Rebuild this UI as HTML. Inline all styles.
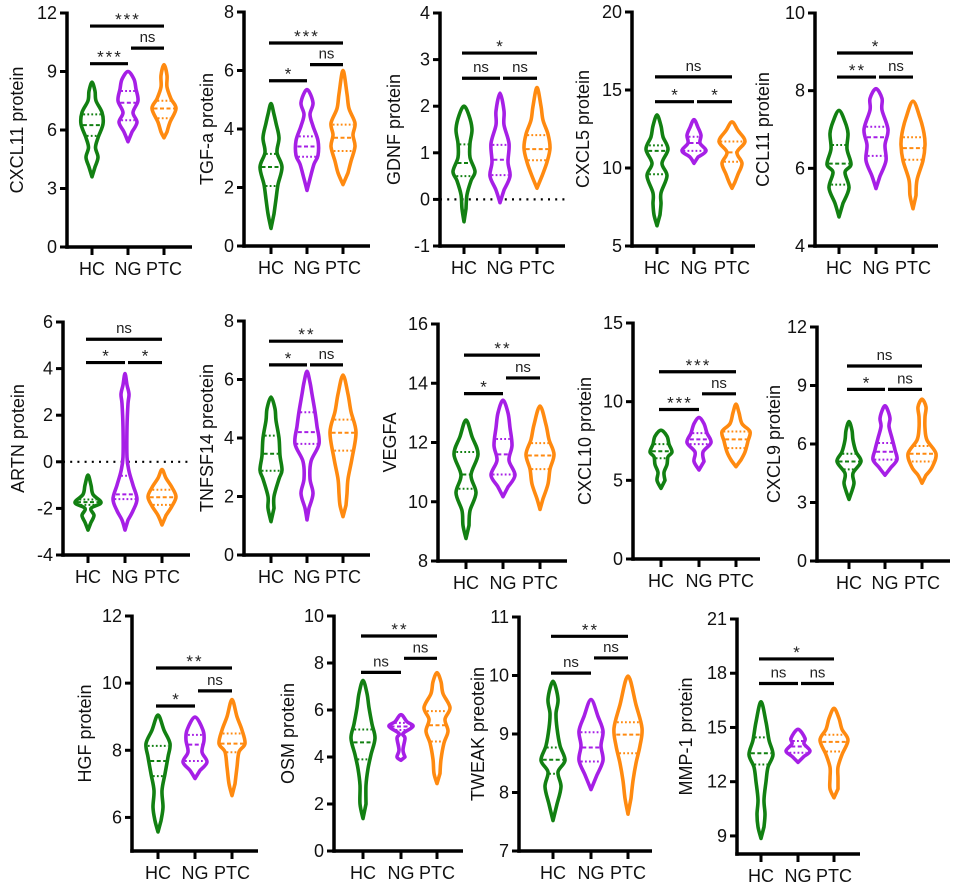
<!DOCTYPE html>
<html><head><meta charset="utf-8">
<style>
html,body{margin:0;padding:0;background:#fff;}
svg{display:block;font-family:"Liberation Sans",Arial,sans-serif;}
</style></head>
<body>
<svg id="fig" width="957" height="889" viewBox="0 0 957 889" xmlns="http://www.w3.org/2000/svg"></svg>
<script>
// ---- data ----
const categories = ['HC','NG','PTC'];
const panelTitles = ['CXCL11 protein','TGF-a protein','GDNF protein','CXCL5 protein','CCL11 protein',
 'ARTN protein','TNFSF14 preotein','VEGFA','CXCL10 protein','CXCL9 protein',
 'HGF protein','OSM protein','TWEAK preotein','MMP-1 protein'];
const panelDomains = [[0,12],[0,8],[-1,4],[5,20],[4,10],[-4,6],[0,8],[8,16],[0,15],[0,12],[5,12],[0,10],[7,11],[8,21]];
const panelTicks = [[0,3,6,9,12],[0,2,4,6,8],[-1,0,1,2,3,4],[5,10,15,20],[4,6,8,10],
 [-4,-2,0,2,4,6],[0,2,4,6,8],[8,10,12,14,16],[0,5,10,15],[0,3,6,9,12],
 [6,8,10,12],[0,2,4,6,8,10],[7,8,9,10,11],[9,12,15,18,21]];
const zeroLinePanels = [2,5];
// density profiles: [value, density]
const violinProfiles = [
 [[[3.6,0],[4.1,3],[4.6,6],[5.1,3.5],[5.6,6],[6.3,11],[6.9,10],[7.5,4],[8.0,3],[8.45,0]],
  [[5.4,0],[5.9,4],[6.4,9],[6.9,5],[7.5,10],[8.1,8],[8.6,6],[9.0,0]],
  [[5.6,0],[5.9,3],[6.4,6],[7.1,12],[7.6,7],[8.2,3],[8.8,3],[9.35,0]]],
 [[[0.6,0],[1.1,3],[1.6,5],[2.1,7],[2.7,11],[3.2,6],[3.7,8],[4.2,5],[4.5,3],[4.87,0]],
  [[1.9,0],[2.3,3],[2.8,7],[3.1,11],[3.6,11],[4.1,6],[4.5,3],[4.9,6],[5.35,0]],
  [[2.1,0],[2.5,5],[2.9,8],[3.4,12],[3.8,10],[4.2,12],[4.7,6],[5.2,4],[6.0,0]]],
 [[[-0.48,0],[-0.2,2],[0.1,3],[0.4,7],[0.6,11],[0.9,6],[1.2,6],[1.5,8],[1.8,5],[2.0,0]],
  [[-0.07,0],[0.2,4],[0.5,10],[0.8,8],[1.2,9],[1.6,4],[1.9,4],[2.28,0]],
  [[0.24,0],[0.5,5],[0.8,10],[1.1,13],[1.4,11],[1.7,6],[2.0,4],[2.4,0]]],
 [[[6.3,0],[7,3],[7.7,4],[8.4,4],[9.5,10],[10.3,5],[11.2,11],[12,6],[12.7,4],[13.4,0]],
  [[10.3,0],[10.7,4],[11.1,12],[11.6,6],[12.1,7],[12.6,4],[13.1,0]],
  [[8.7,0],[9.1,3],[9.6,6],[10.3,10],[11.0,5],[11.7,13],[12.4,6],[12.95,0]]],
 [[[4.75,0],[5.1,4],[5.5,10],[5.9,6],[6.1,12],[6.5,8],[6.9,9],[7.2,6],[7.49,0]],
  [[5.48,0],[5.8,4],[6.2,10],[6.6,9],[7.0,12],[7.5,6],[7.8,6],[8.05,0]],
  [[4.96,0],[5.3,3],[5.7,4],[6.2,10],[6.6,12],[6.9,11],[7.3,7],[7.73,0]]],
 [[[-2.93,0],[-2.6,3],[-2.3,6],[-2.0,3],[-1.75,13],[-1.4,5],[-1.0,3],[-0.57,0]],
  [[-2.93,0],[-2.5,3],[-2.1,8],[-1.6,12],[-1.0,8],[-0.4,4],[0.2,2],[1.5,2],[2.5,3],[2.9,4],[3.3,2],[3.79,0]],
  [[-2.71,0],[-2.3,4],[-1.9,10],[-1.5,14],[-1.1,10],[-0.7,4],[-0.33,0]]],
 [[[1.14,0],[1.6,3],[2.0,3],[2.6,8],[2.9,11],[3.4,9],[4.0,8],[4.6,5],[5.0,4],[5.4,0]],
  [[1.2,0],[1.6,2],[2.1,6],[2.6,3],[3.2,4],[3.8,12],[4.4,10],[4.9,8],[5.5,5],[5.9,3],[6.28,0]],
  [[1.31,0],[1.7,3],[2.1,4],[2.6,5],[3.3,9],[4.2,13],[4.9,8],[5.5,5],[6.15,0]]],
 [[[8.76,0],[9.2,3],[9.7,4],[10.3,10],[10.9,5],[11.6,12],[12.2,6],[12.76,0]],
  [[10.17,0],[10.5,5],[10.9,12],[11.4,6],[11.9,9],[12.5,7],[13.0,5],[13.43,0]],
  [[9.74,0],[10.1,3],[10.6,8],[11.1,10],[11.6,14],[12.1,9],[12.6,6],[13.23,0]]],
 [[[4.49,0],[5.0,4],[5.5,3],[6.0,6],[6.5,7],[6.8,11],[7.3,8],[7.8,6],[8.19,0]],
  [[5.66,0],[6.2,5],[6.8,4],[7.4,12],[8.0,8],[8.6,5],[9.0,0]],
  [[5.87,0],[6.3,5],[6.8,9],[7.5,12],[8.1,14],[8.6,6],[9.3,3],[9.84,0]]],
 [[[3.16,0],[3.6,3],[4.0,5],[4.5,4],[5.1,12],[5.6,7],[6.2,4],[6.7,3],[7.15,0]],
  [[4.4,0],[4.8,6],[5.2,12],[5.7,10],[6.3,7],[6.9,4],[7.3,5],[7.7,3],[7.96,0]],
  [[3.99,0],[4.4,4],[4.8,10],[5.5,14],[6.2,5],[6.8,3],[7.4,3],[7.9,4],[8.3,0]]],
 [[[5.57,0],[5.9,3],[6.3,5],[6.8,4],[7.3,7],[7.8,10],[8.2,12],[8.6,6],[9.05,0]],
  [[7.16,0],[7.4,5],[7.65,12],[7.95,7],[8.3,9],[8.6,8],[8.99,0]],
  [[6.65,0],[7.0,3],[7.5,5],[7.95,7],[8.2,13],[8.6,10],[9.0,5],[9.51,0]]],
 [[[1.38,0],[2,3],[2.8,3],[3.5,5],[4.1,8],[4.8,12],[5.4,9],[6.1,6],[6.7,4],[7.26,0]],
  [[3.86,0],[4.0,4],[4.3,2],[4.8,4],[5.0,2],[5.3,12],[5.5,6],[5.8,0]],
  [[2.87,0],[3.3,3],[3.9,4],[4.6,7],[5.1,11],[5.6,8],[6.1,13],[6.7,6],[7.2,4],[7.59,0]]],
 [[[7.52,0],[7.8,4],[8.1,8],[8.35,5],[8.55,12],[8.8,7],[9.1,4],[9.35,3],[9.6,5],[9.9,0]],
  [[8.05,0],[8.3,6],[8.55,12],[8.8,10],[9.05,12],[9.3,7],[9.59,0]],
  [[7.63,0],[7.9,3],[8.2,5],[8.5,8],[8.8,12],[9.1,14],[9.5,8],[9.99,0]]],
 [[[8.86,0],[9.5,3],[10.2,4],[11,3],[12,5],[12.8,7],[13.5,12],[14.3,8],[15.3,5],[16.42,0]],
  [[13.07,0],[13.4,6],[13.7,12],[14.1,6],[14.4,7],[14.9,0]],
  [[11.11,0],[11.6,4],[12.2,4],[12.8,4],[13.5,8],[14.3,14],[14.9,8],[15.5,5],[16.06,0]]]
];
// quartiles [q1, median, q3]
const violinQuartiles = [
 [[5.7,6.25,6.8],[6.5,7.4,8.0],[6.6,7.1,7.5]],
 [[2.05,2.7,3.15],[3.05,3.4,3.75],[3.25,3.7,4.15]],
 [[0.5,0.78,1.18],[0.52,0.85,1.17],[0.84,1.08,1.38]],
 [[9.6,11.1,11.45],[11.1,11.6,12.0],[10.4,11.0,11.7]],
 [[5.58,6.12,6.6],[6.32,6.8,7.07],[6.22,6.52,6.8]],
 [[-1.85,-1.73,-1.62],[-1.6,-1.4,-0.6],[-1.85,-1.52,-1.2]],
 [[2.88,3.46,4.08],[3.8,4.2,4.88],[3.57,4.18,4.63]],
 [[10.44,10.92,11.68],[10.92,11.6,12.12],[11.1,11.56,11.98]],
 [[6.4,6.85,7.3],[7.3,7.6,8.0],[7.05,7.6,8.1]],
 [[4.7,5.1,5.5],[5.2,5.6,6.05],[5.1,5.5,5.9]],
 [[7.23,7.68,8.13],[7.68,8.17,8.46],[7.94,8.2,8.5]],
 [[3.9,4.62,5.17],[5.15,5.3,5.45],[4.66,5.35,5.95]],
 [[8.32,8.56,8.77],[8.53,8.77,9.03],[8.67,8.99,9.2]],
 [[12.95,13.57,14.45],[13.6,13.95,14.25],[13.67,14.2,14.6]]
];
// brackets: [fromCat, toCat, value, label]
const brackets = [
 [[0,2,11.33,'***'],[0,1,9.4,'***'],[1,2,10.2,'ns']],
 [[0,2,6.94,'***'],[0,1,5.65,'*'],[1,2,6.2,'ns']],
 [[0,2,3.14,'*'],[0,1,2.6,'ns'],[1,2,2.6,'ns']],
 [[0,2,15.84,'ns'],[0,1,14.25,'*'],[1,2,14.25,'*']],
 [[0,2,8.97,'*'],[0,1,8.35,'**'],[1,2,8.35,'ns']],
 [[0,2,5.26,'ns'],[0,1,4.26,'*'],[1,2,4.26,'*']],
 [[0,2,7.31,'**'],[0,1,6.5,'*'],[1,2,6.5,'ns']],
 [[0,2,14.95,'**'],[0,1,13.65,'*'],[1,2,14.18,'ns']],
 [[0,2,11.9,'***'],[0,1,9.5,'***'],[1,2,10.5,'ns']],
 [[0,2,10.0,'ns'],[0,1,8.8,'*'],[1,2,8.8,'ns']],
 [[0,2,10.45,'**'],[0,1,9.32,'*'],[1,2,9.77,'ns']],
 [[0,2,9.15,'**'],[0,1,7.6,'ns'],[1,2,8.2,'ns']],
 [[0,2,10.67,'**'],[0,1,10.04,'ns'],[1,2,10.3,'ns']],
 [[0,2,18.79,'*'],[0,1,17.43,'ns'],[1,2,17.43,'ns']]
];
// ---- layout (pixels) ----
const layout = [
 {ax:67,top:13,bot:247,cx:[92,128,164],end:192,tx:17},
 {ax:244,top:12,bot:246,cx:[271,307,343],end:370,tx:207},
 {ax:440,top:13,bot:246,cx:[464,500,537],end:565,tx:394},
 {ax:632,top:12,bot:246,cx:[657,694,732],end:755,tx:583},
 {ax:815,top:13,bot:246,cx:[839,876,913],end:938,tx:763},
 {ax:63,top:322,bot:555,cx:[88,125,162],end:190,tx:18},
 {ax:244,top:321,bot:555,cx:[271,307,343],end:370,tx:207},
 {ax:438,top:324,bot:561,cx:[466,503,540],end:567,tx:390},
 {ax:633,top:323,bot:559,cx:[661,699,736],end:760,tx:585},
 {ax:817,top:327,bot:561,cx:[849,885,922],end:950,tx:774},
 {ax:132,top:616,bot:851,cx:[158,195,232],end:258,tx:85},
 {ax:334,top:616,bot:851,cx:[363,401,437],end:463,tx:288},
 {ax:519,top:617,bot:851,cx:[553,591,628],end:652,tx:478},
 {ax:737,top:619,bot:854,cx:[761,798,834],end:860,tx:686}
];
const colors = ['#128012','#a61fe6','#ff8a10'];
const NS='http://www.w3.org/2000/svg';
const svg=document.getElementById('fig');
function mk(tag,attrs,parent){const e=document.createElementNS(NS,tag);for(const k in attrs)e.setAttribute(k,attrs[k]);(parent||svg).appendChild(e);return e;}
function yScale(i,v){const L=layout[i],d=panelDomains[i];return L.top+(d[1]-v)/(d[1]-d[0])*(L.bot-L.top);}
function crPath(pts){
 let d='M'+pts[0][0].toFixed(2)+','+pts[0][1].toFixed(2);
 for(let i=0;i<pts.length-1;i++){
  const p0=pts[Math.max(0,i-1)],p1=pts[i],p2=pts[i+1],p3=pts[Math.min(pts.length-1,i+2)];
  const c1=[p1[0]+(p2[0]-p0[0])/6,p1[1]+(p2[1]-p0[1])/6];
  const c2=[p2[0]-(p3[0]-p1[0])/6,p2[1]-(p3[1]-p1[1])/6];
  d+=' C'+c1[0].toFixed(2)+','+c1[1].toFixed(2)+' '+c2[0].toFixed(2)+','+c2[1].toFixed(2)+' '+p2[0].toFixed(2)+','+p2[1].toFixed(2);
 }
 return d+'Z';
}
function widthAt(prof,v){
 for(let k=0;k<prof.length-1;k++){const a=prof[k],b=prof[k+1];if(v>=a[0]&&v<=b[0]){return a[1]+(b[1]-a[1])*(v-a[0])/(b[0]-a[0]);}}
 return 0;
}
for(let i=0;i<layout.length;i++){
 const L=layout[i];
 const g=mk('g',{});
 
 
 if(zeroLinePanels.includes(i)){
  const zl=mk('line',{x1:L.ax,x2:L.end,y1:yScale(i,0),y2:yScale(i,0),stroke:'#000','stroke-width':2.2,'stroke-dasharray':'2,5.2'},g);
  
  
 }
 const ya=mk('line',{x1:L.ax,x2:L.ax,y1:L.top-1.5,y2:L.bot+1.75,stroke:'#000','stroke-width':3.5},g);
 
 
 const xa=mk('line',{x1:L.ax-1.75,x2:L.end,y1:L.bot,y2:L.bot,stroke:'#000','stroke-width':3.5},g);
 
 
 panelTicks[i].forEach(t=>{
  const y=yScale(i,t);
  const tk=mk('line',{x1:L.ax-7,x2:L.ax,y1:y,y2:y,stroke:'#000','stroke-width':3},g);
  
  
  const tl=mk('text',{x:L.ax-10,y:y+6,'text-anchor':'end','font-size':18,fill:'#111'},g);
  tl.textContent=String(t);
  
  
 });
 const tt=mk('text',{x:0,y:0,'text-anchor':'middle','font-size':18,fill:'#111',transform:'translate('+(L.tx+6)+','+((L.top+L.bot)/2)+') rotate(-90)'},g);
 tt.textContent=panelTitles[i];
 
 
 categories.forEach((c,j)=>{
  const x=L.cx[j];
  const ct=mk('line',{x1:x,x2:x,y1:L.bot,y2:L.bot+8,stroke:'#000','stroke-width':3},g);
  
  
  const cl=mk('text',{x:x,y:L.bot+28,'text-anchor':'middle','font-size':18,fill:'#111'},g);
  cl.textContent=c;
  
  
  const prof=violinProfiles[i][j];
  const pts=[];
  prof.forEach(p=>pts.push([x-p[1],yScale(i,p[0])]));
  for(let k=prof.length-2;k>=1;k--){pts.push([x+prof[k][1],yScale(i,prof[k][0])]);}
  const vp=mk('path',{d:crPath(pts),fill:'none',stroke:colors[j],'stroke-width':3.6,'stroke-linejoin':'round'},g);
  
  
  violinQuartiles[i][j].forEach((q,qi)=>{
   const w=Math.max(0,widthAt(prof,q)-1.5);
   const y=yScale(i,q);
   const ql=mk('line',{x1:x-w,x2:x+w,y1:y,y2:y,stroke:colors[j],'stroke-width':2,'stroke-dasharray':qi===1?'4,2.5':'1.8,2.2'},g);
   
   
  });
 });
 brackets[i].forEach(b=>{
  const y=yScale(i,b[2]);
  const x1=L.cx[b[0]]+(b[0]===1?3:-2);
  const x2=L.cx[b[1]];
  const bl=mk('line',{x1:x1,x2:x2,y1:y,y2:y,stroke:'#000','stroke-width':3.2},g);
  
  
  const isNs=b[3]==='ns';
  const st=mk('text',{x:(x1+x2)/2+(isNs?0:1),y:isNs?y-6:y-1,'text-anchor':'middle','font-size':isNs?15:17,'letter-spacing':isNs?0:2,fill:'#222'},g);
  st.textContent=b[3];
  
  
 });
}
</script>
</body></html>
